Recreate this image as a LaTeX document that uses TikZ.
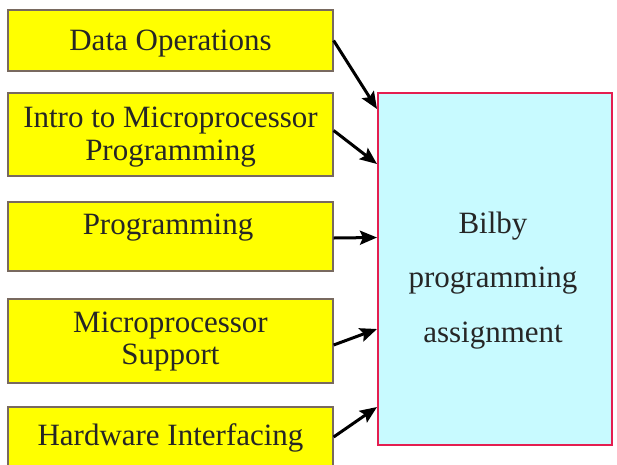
\documentclass[tikz,border=0pt]{standalone}
\usepackage{fontspec}
\setmainfont{Liberation Serif}
\usetikzlibrary{arrows.meta,calc}
\definecolor{ybox}{RGB}{255,255,0}
\definecolor{yedge}{RGB}{120,105,95}
\definecolor{cbox}{RGB}{200,250,255}
\definecolor{redge}{RGB}{228,30,80}
\tikzset{
  topic/.style={draw=yedge, line width=1.2pt, fill=ybox, minimum width=325pt, inner sep=0pt},
  lbl/.style={anchor=base, align=center, inner sep=0pt, text=black!85, font=\fontsize{31}{32.7}\selectfont},
  goal/.style={draw=redge, line width=2pt, fill=cbox, minimum width=234pt, minimum height=352pt, inner sep=0pt},
  feed/.style={-{Stealth[length=17pt,width=14pt,inset=3pt]}, line width=3pt, black}
}
\begin{document}
\begin{tikzpicture}[x=1pt,y=-1pt]
\useasboundingbox (0,0) rectangle (617,464);
\clip (0,0) rectangle (617,464);
\node[topic, minimum height=61pt] (b1) at (170.5,40.5) {};
\node[topic, minimum height=83pt] (b2) at (170.5,134.5) {};
\node[topic, minimum height=69pt] (b3) at (170.5,236.5) {};
\node[topic, minimum height=84pt] (b4) at (170.5,341) {};
\node[topic, minimum height=70pt] (b5) at (170.5,442) {};
\node[lbl] (l1) at (170.5,50) {Data Operations};
\node[lbl] (l2) at (170.5,160) {Intro to Microprocessor\\Programming};
\node[lbl] (l3) at (168,234) {Programming};
\node[lbl] (l4) at (170.5,364.7) {Microprocessor\\Support};
\node[lbl] (l5) at (170.5,445) {Hardware Interfacing};
\node[goal] (big) at (495,269) {};
\node[lbl, font=\fontsize{31}{54.5}\selectfont] (t) at (493,342) {Bilby\\programming\\assignment};
\draw[feed] (b1.east) -- ($(big.north west)+(0,17)$);
\draw[feed] ($(b2.east)+(0,-4)$) -- ($(big.north west)+(0,72)$);
\draw[feed] ($(b3.east)+(0,1.5)$) -- ($(big.north west)+(0,145.5)$);
\draw[feed] ($(b4.east)+(0,4)$) -- ($(big.north west)+(0,237)$);
\draw[feed] ($(b5.east)+(0,-5)$) -- ($(big.north west)+(0,315)$);
\end{tikzpicture}
\end{document}
